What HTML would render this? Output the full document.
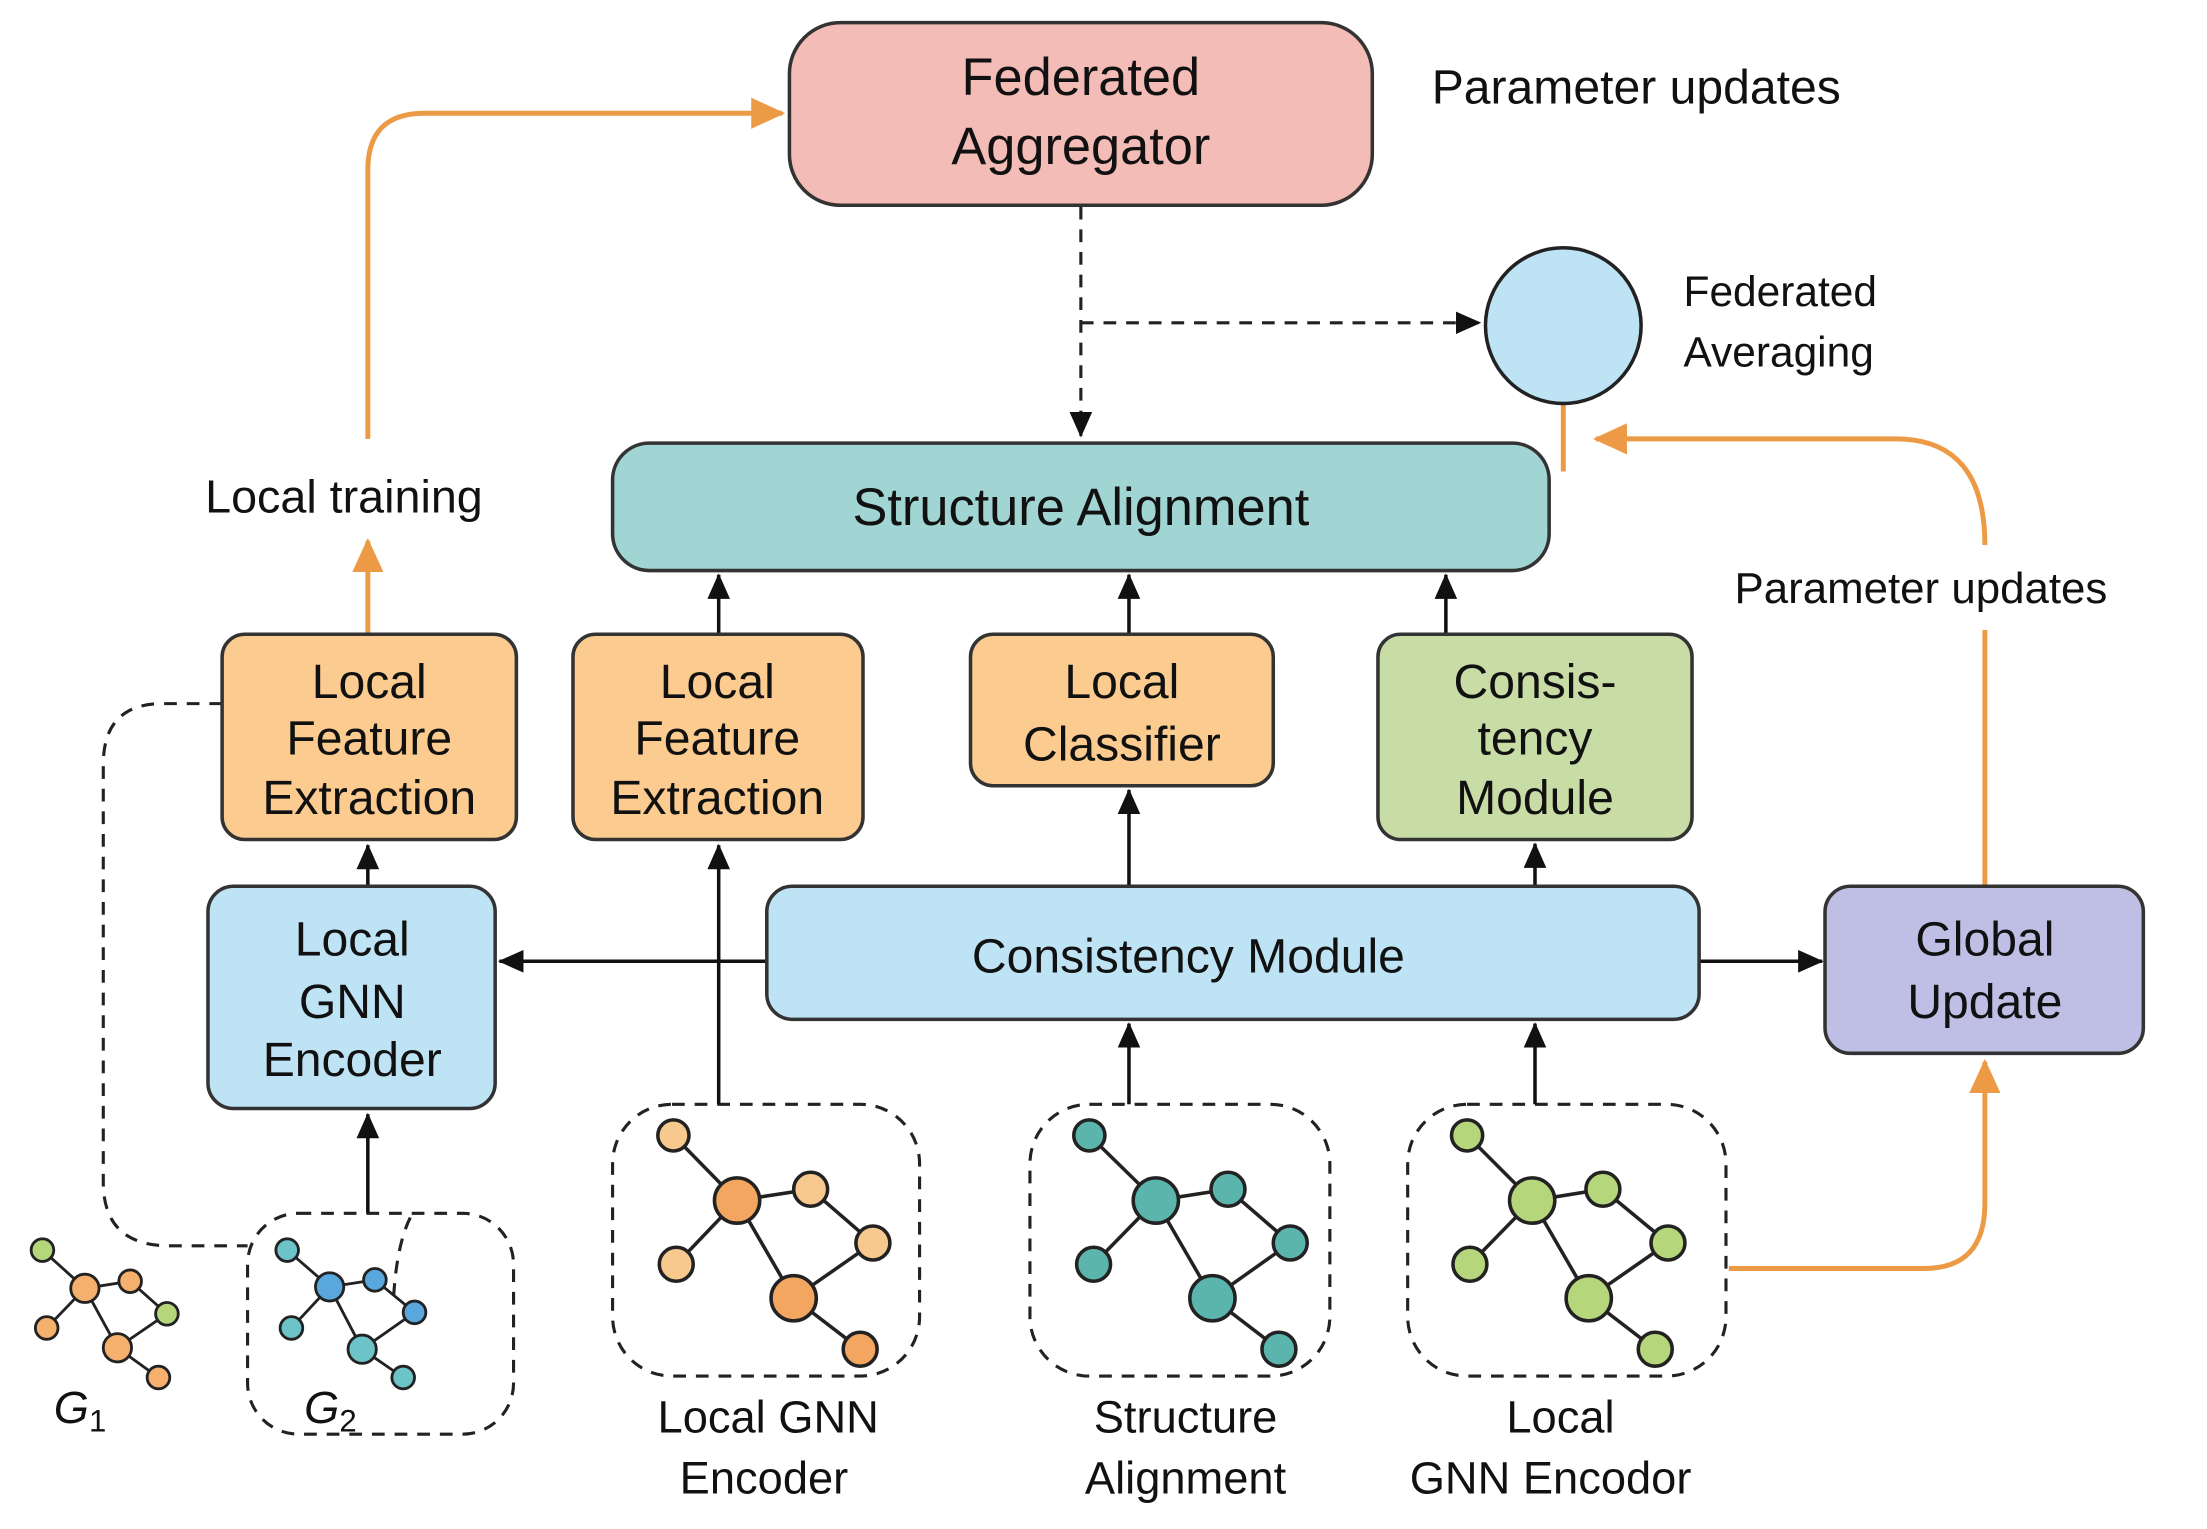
<!DOCTYPE html>
<html><head><meta charset="utf-8"><style>
html,body{margin:0;padding:0;background:#fff;}
svg{display:block;}
text{font-family:"Liberation Sans Narrow","Liberation Sans",sans-serif;fill:#111;}
</style></head><body>
<svg width="2207" height="1529" viewBox="0 0 1560 1080" preserveAspectRatio="none" xmlns="http://www.w3.org/2000/svg">
<defs>
<marker id="ab" markerWidth="10" markerHeight="10" refX="9" refY="5" orient="auto" markerUnits="userSpaceOnUse"><path d="M0,0 L10,5 L0,10 z" fill="#111"/></marker>
<marker id="ab2" markerWidth="18" markerHeight="16" refX="17" refY="8" orient="auto" markerUnits="userSpaceOnUse"><path d="M0,0 L18,8 L0,16 z" fill="#111"/></marker>
<marker id="ao" markerWidth="24" markerHeight="22" refX="22" refY="11" orient="auto" markerUnits="userSpaceOnUse"><path d="M0,0 L24,11 L0,22 z" fill="#ec9a45"/></marker>
</defs>
<rect width="1560" height="1080" fill="#fff"/>
<g stroke="#ec9a45" stroke-width="3.5" fill="none">
<path d="M260,310 L260,120 Q260,80 300,80 L553,80" marker-end="url(#ao)"/>
<path d="M260,448 L260,382" marker-end="url(#ao)"/>
<path d="M1105,285 L1105,333"/>
<path d="M1403,625 L1403,445"/>
<path d="M1403,385 Q1403,310 1340,310 L1128,310" marker-end="url(#ao)"/>
<path d="M1222,896 L1360,896 Q1403,896 1403,850 L1403,750" marker-end="url(#ao)"/>
</g>
<g stroke="#222" stroke-width="2.2" fill="none" stroke-dasharray="9,7">
<path d="M764,146 L764,308" marker-end="url(#ab2)"/>
<path d="M764,228 L1046,228" marker-end="url(#ab2)"/>
<path d="M157,497 L115,497 Q73,497 73,540 L73,835 Q73,880 120,880 L175,880"/>
<rect x="433" y="780" width="217" height="192" rx="42"/>
<rect x="728" y="780" width="212" height="192" rx="42"/>
<rect x="995" y="780" width="225" height="192" rx="42"/>
<rect x="175" y="857" width="188" height="156" rx="36"/>
<path d="M290,860 Q280,880 278,920"/>
</g>
<rect x="558" y="16" width="412" height="129" rx="36" fill="#f4bcb6" stroke="#333" stroke-width="2.5"/>
<text x="764" y="67" font-size="37" text-anchor="middle">Federated</text>
<text x="764" y="116" font-size="37" text-anchor="middle">Aggregator</text>
<text x="1012" y="73" font-size="34">Parameter updates</text>
<ellipse cx="1105" cy="230" rx="55" ry="55" fill="#bde3f5" stroke="#222" stroke-width="2.5"/>
<text x="1190" y="216" font-size="30">Federated</text>
<text x="1190" y="259" font-size="30">Averaging</text>
<text x="145" y="362" font-size="33">Local training</text>
<text x="1226" y="426" font-size="31">Parameter updates</text>
<rect x="433" y="313" width="662" height="90" rx="26" fill="#a0d5d3" stroke="#333" stroke-width="2.5"/>
<text x="764" y="371" font-size="37" text-anchor="middle">Structure Alignment</text>
<g stroke="#111" stroke-width="2.5" fill="none">
<path d="M508,448 L508,406" marker-end="url(#ab2)"/>
<path d="M798,448 L798,406" marker-end="url(#ab2)"/>
<path d="M1022,448 L1022,406" marker-end="url(#ab2)"/>
<path d="M260,626 L260,597" marker-end="url(#ab2)"/>
<path d="M542,679 L353,679" marker-end="url(#ab2)"/>
<path d="M508,780 L508,597" marker-end="url(#ab2)"/>
<path d="M798,626 L798,558" marker-end="url(#ab2)"/>
<path d="M1085,626 L1085,596" marker-end="url(#ab2)"/>
<path d="M1201,679 L1288,679" marker-end="url(#ab2)"/>
<path d="M798,780 L798,723" marker-end="url(#ab2)"/>
<path d="M1085,780 L1085,723" marker-end="url(#ab2)"/>
<path d="M260,857 L260,787" marker-end="url(#ab2)"/>
</g>
<g stroke="#333" stroke-width="2.5">
<rect x="157" y="448" width="208" height="145" rx="16" fill="#fbcb8f"/>
<rect x="405" y="448" width="205" height="145" rx="16" fill="#fbcb8f"/>
<rect x="686" y="448" width="214" height="107" rx="16" fill="#fbcb8f"/>
<rect x="974" y="448" width="222" height="145" rx="16" fill="#c8dca5"/>
<rect x="147" y="626" width="203" height="157" rx="18" fill="#bde3f5"/>
<rect x="542" y="626" width="659" height="94" rx="18" fill="#bde3f5"/>
<rect x="1290" y="626" width="225" height="118" rx="18" fill="#bfbfe6"/>
</g>
<g font-size="34" text-anchor="middle">
<text x="261" y="493">Local</text><text x="261" y="533">Feature</text><text x="261" y="575">Extraction</text>
<text x="507" y="493">Local</text><text x="507" y="533">Feature</text><text x="507" y="575">Extraction</text>
<text x="793" y="493">Local</text><text x="793" y="537">Classifier</text>
<text x="1085" y="493">Consis-</text><text x="1085" y="533">tency</text><text x="1085" y="575">Module</text>
<text x="249" y="675">Local</text><text x="249" y="719">GNN</text><text x="249" y="760">Encoder</text>
<text x="840" y="687">Consistency Module</text>
<text x="1403" y="675">Global</text><text x="1403" y="719">Update</text>
</g>
<g font-size="32" text-anchor="middle">
<text x="543" y="1012">Local GNN</text><text x="540" y="1055">Encoder</text>
<text x="838" y="1012">Structure</text><text x="838" y="1055">Alignment</text>
<text x="1103" y="1012">Local</text><text x="1096" y="1055">GNN Encodor</text>
</g>
<text x="38" y="1005" font-size="32" font-family="Liberation Serif" font-style="italic">G<tspan font-size="22" dy="6" font-style="normal">1</tspan></text>
<text x="215" y="1005" font-size="32" font-family="Liberation Serif" font-style="italic">G<tspan font-size="22" dy="6" font-style="normal">2</tspan></text>
<g stroke="#222" stroke-width="2.5">
<!-- orange graph -->
<path d="M476,802 L521,848 L573,840 L617,878 L561,917 L608,953 M521,848 L478,893 M521,848 L561,917" fill="none"/>
<circle cx="476" cy="802" r="11" fill="#f8c98f"/><circle cx="521" cy="848" r="16" fill="#f2a660"/><circle cx="573" cy="840" r="12" fill="#f8c98f"/><circle cx="617" cy="878" r="12" fill="#f8c98f"/><circle cx="478" cy="893" r="12" fill="#f8c98f"/><circle cx="561" cy="917" r="16" fill="#f2a660"/><circle cx="608" cy="953" r="12" fill="#f2a660"/>
<!-- teal -->
<path d="M770,802 L817,848 L868,840 L912,878 L857,917 L904,953 M817,848 L773,893 M817,848 L857,917" fill="none"/>
<circle cx="770" cy="802" r="11" fill="#5bb5ad"/><circle cx="817" cy="848" r="16" fill="#5bb5ad"/><circle cx="868" cy="840" r="12" fill="#5bb5ad"/><circle cx="912" cy="878" r="12" fill="#5bb5ad"/><circle cx="773" cy="893" r="12" fill="#5bb5ad"/><circle cx="857" cy="917" r="16" fill="#5bb5ad"/><circle cx="904" cy="953" r="12" fill="#5bb5ad"/>
<!-- green -->
<path d="M1037,802 L1083,848 L1133,840 L1179,878 L1123,917 L1170,953 M1083,848 L1039,893 M1083,848 L1123,917" fill="none"/>
<circle cx="1037" cy="802" r="11" fill="#b5d67a"/><circle cx="1083" cy="848" r="16" fill="#b5d67a"/><circle cx="1133" cy="840" r="12" fill="#b5d67a"/><circle cx="1179" cy="878" r="12" fill="#b5d67a"/><circle cx="1039" cy="893" r="12" fill="#b5d67a"/><circle cx="1123" cy="917" r="16" fill="#b5d67a"/><circle cx="1170" cy="953" r="12" fill="#b5d67a"/>
</g>
<g stroke="#222" stroke-width="2">
<path d="M30,883 L60,910 L92,905 L118,928 L83,952 L112,973 M60,910 L33,938 M60,910 L83,952" fill="none"/>
<circle cx="30" cy="883" r="8" fill="#b5d67a"/><circle cx="60" cy="910" r="10" fill="#f5b06e"/><circle cx="92" cy="905" r="8" fill="#f5b06e"/><circle cx="118" cy="928" r="8" fill="#b5d67a"/><circle cx="33" cy="938" r="8" fill="#f5b06e"/><circle cx="83" cy="952" r="10" fill="#f5b06e"/><circle cx="112" cy="973" r="8" fill="#f5b06e"/>
<path d="M203,883 L233,909 L265,904 L293,927 L256,953 L285,973 M233,909 L206,938 M233,909 L256,953" fill="none"/>
<circle cx="203" cy="883" r="8" fill="#6cc3c8"/><circle cx="233" cy="909" r="10" fill="#5aa7dd"/><circle cx="265" cy="904" r="8" fill="#5aa7dd"/><circle cx="293" cy="927" r="8" fill="#5aa7dd"/><circle cx="206" cy="938" r="8" fill="#6cc3c8"/><circle cx="256" cy="953" r="10" fill="#6cc3c8"/><circle cx="285" cy="973" r="8" fill="#6cc3c8"/>
</g>
</svg>
</body></html>
